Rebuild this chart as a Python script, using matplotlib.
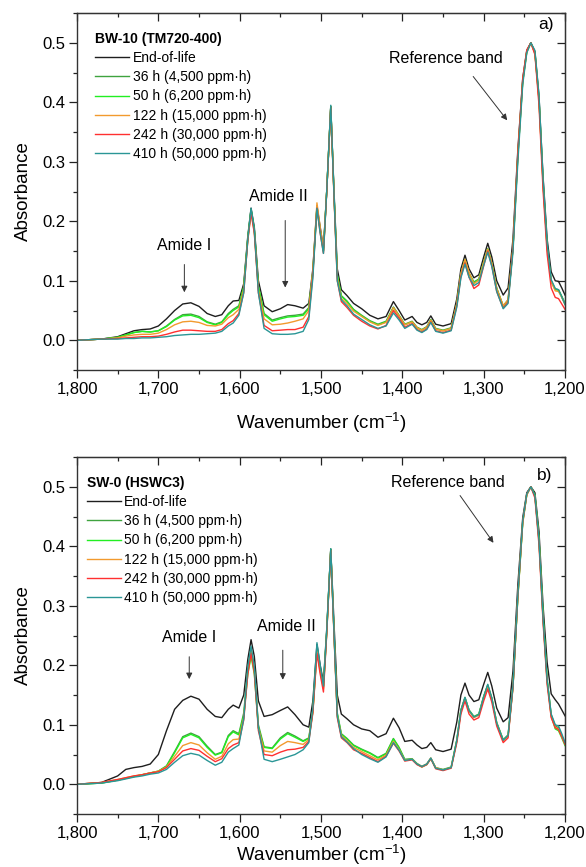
import matplotlib
matplotlib.use("Agg")
import matplotlib.pyplot as plt
from matplotlib.ticker import MultipleLocator, FuncFormatter, NullFormatter

plt.rcParams['font.family'] = ['Liberation Sans', 'DejaVu Sans']
plt.rcParams['mathtext.default'] = 'regular'

# wavenumber grid (cm-1) shared by all spectra
wavenumber = [1800, 1770, 1750, 1740, 1730, 1720, 1710, 1700, 1690, 1680,
              1670, 1660, 1650, 1640, 1630, 1622, 1614, 1608, 1601, 1595,
              1590, 1586, 1582, 1577, 1570, 1560, 1550, 1541, 1532, 1522,
              1515, 1510, 1505, 1501, 1497, 1493, 1488, 1484, 1480, 1475,
              1468, 1460, 1450, 1440, 1430, 1420, 1411, 1404, 1397, 1388,
              1382, 1376, 1370, 1365, 1359, 1350, 1340, 1333, 1328, 1323,
              1318, 1312, 1306, 1300, 1295, 1290, 1284, 1276, 1270, 1264,
              1258, 1252, 1247, 1242, 1237, 1232, 1227, 1222, 1217, 1212,
              1208, 1204, 1200]

labels = ['End-of-life', '36 h (4,500 ppm·h)', '50 h (6,200 ppm·h)',
          '122 h (15,000 ppm·h)', '242 h (30,000 ppm·h)', '410 h (50,000 ppm·h)']
colors = ['#1e1e1e', '#3fa33f', '#22ee22', '#f29a2e', '#ff3030', '#2a9696']

# BW-10 (TM720-400)
bw_eol = [0.000, 0.002, 0.006, 0.011, 0.016, 0.018, 0.019, 0.024, 0.036, 0.050,
          0.061, 0.063, 0.057, 0.045, 0.040, 0.043, 0.058, 0.066, 0.067, 0.095,
          0.175, 0.222, 0.190, 0.100, 0.058, 0.048, 0.053, 0.060, 0.058, 0.054,
          0.062, 0.120, 0.226, 0.190, 0.155, 0.250, 0.393, 0.250, 0.120, 0.085,
          0.075, 0.062, 0.053, 0.042, 0.036, 0.040, 0.065, 0.050, 0.034, 0.040,
          0.030, 0.026, 0.030, 0.041, 0.027, 0.024, 0.028, 0.070, 0.120, 0.143,
          0.120, 0.105, 0.110, 0.140, 0.163, 0.140, 0.100, 0.076, 0.088, 0.170,
          0.320, 0.440, 0.487, 0.500, 0.485, 0.410, 0.275, 0.170, 0.115, 0.100,
          0.099, 0.088, 0.076]
bw_36h = [0.000, 0.002, 0.005, 0.009, 0.013, 0.015, 0.014, 0.016, 0.024, 0.035,
          0.043, 0.044, 0.040, 0.031, 0.027, 0.031, 0.045, 0.052, 0.058, 0.090,
          0.172, 0.220, 0.186, 0.092, 0.045, 0.034, 0.038, 0.041, 0.042, 0.044,
          0.055, 0.115, 0.224, 0.185, 0.150, 0.250, 0.393, 0.245, 0.110, 0.075,
          0.066, 0.052, 0.042, 0.033, 0.027, 0.032, 0.056, 0.042, 0.027, 0.032,
          0.022, 0.018, 0.023, 0.035, 0.020, 0.017, 0.021, 0.062, 0.112, 0.136,
          0.113, 0.098, 0.103, 0.132, 0.154, 0.130, 0.088, 0.058, 0.068, 0.155,
          0.310, 0.435, 0.485, 0.500, 0.483, 0.405, 0.265, 0.157, 0.100, 0.086,
          0.085, 0.074, 0.062]
bw_50h = [0.000, 0.002, 0.005, 0.009, 0.013, 0.015, 0.014, 0.016, 0.023, 0.034,
          0.041, 0.042, 0.038, 0.030, 0.026, 0.030, 0.043, 0.050, 0.056, 0.090,
          0.172, 0.219, 0.185, 0.090, 0.043, 0.032, 0.036, 0.039, 0.040, 0.042,
          0.053, 0.115, 0.224, 0.185, 0.150, 0.250, 0.393, 0.245, 0.110, 0.074,
          0.065, 0.051, 0.041, 0.032, 0.026, 0.031, 0.055, 0.041, 0.026, 0.031,
          0.021, 0.017, 0.022, 0.034, 0.019, 0.016, 0.020, 0.061, 0.111, 0.135,
          0.112, 0.097, 0.102, 0.131, 0.153, 0.129, 0.087, 0.057, 0.067, 0.154,
          0.309, 0.435, 0.485, 0.500, 0.483, 0.405, 0.265, 0.156, 0.099, 0.085,
          0.084, 0.073, 0.061]
bw_122h = [0.000, 0.002, 0.004, 0.007, 0.009, 0.010, 0.010, 0.012, 0.018, 0.026,
           0.031, 0.032, 0.030, 0.025, 0.024, 0.027, 0.038, 0.043, 0.052, 0.085,
           0.168, 0.215, 0.182, 0.085, 0.036, 0.026, 0.027, 0.029, 0.032, 0.036,
           0.050, 0.118, 0.231, 0.190, 0.152, 0.250, 0.390, 0.243, 0.105, 0.070,
           0.062, 0.049, 0.040, 0.031, 0.025, 0.030, 0.055, 0.041, 0.026, 0.031,
           0.021, 0.017, 0.022, 0.034, 0.019, 0.016, 0.020, 0.062, 0.112, 0.136,
           0.114, 0.095, 0.101, 0.131, 0.153, 0.129, 0.087, 0.058, 0.068, 0.155,
           0.310, 0.435, 0.485, 0.500, 0.482, 0.403, 0.262, 0.155, 0.098, 0.083,
           0.082, 0.072, 0.060]
bw_242h = [0.000, 0.002, 0.003, 0.004, 0.005, 0.006, 0.006, 0.007, 0.010, 0.014,
           0.017, 0.017, 0.016, 0.015, 0.015, 0.018, 0.028, 0.033, 0.045, 0.080,
           0.168, 0.214, 0.180, 0.080, 0.025, 0.016, 0.017, 0.018, 0.018, 0.022,
           0.040, 0.110, 0.222, 0.180, 0.146, 0.248, 0.392, 0.240, 0.100, 0.065,
           0.055, 0.042, 0.032, 0.024, 0.019, 0.025, 0.050, 0.037, 0.022, 0.028,
           0.018, 0.014, 0.019, 0.031, 0.016, 0.013, 0.017, 0.058, 0.107, 0.130,
           0.106, 0.087, 0.093, 0.125, 0.150, 0.125, 0.082, 0.054, 0.064, 0.155,
           0.315, 0.440, 0.488, 0.500, 0.480, 0.395, 0.252, 0.145, 0.088, 0.072,
           0.070, 0.061, 0.052]
bw_410h = [0.000, 0.002, 0.002, 0.003, 0.003, 0.004, 0.004, 0.005, 0.006, 0.008,
           0.009, 0.010, 0.010, 0.011, 0.012, 0.015, 0.024, 0.029, 0.042, 0.080,
           0.170, 0.222, 0.186, 0.080, 0.020, 0.011, 0.010, 0.010, 0.011, 0.015,
           0.035, 0.105, 0.222, 0.180, 0.146, 0.250, 0.395, 0.245, 0.100, 0.068,
           0.058, 0.044, 0.035, 0.026, 0.020, 0.024, 0.046, 0.034, 0.020, 0.027,
           0.017, 0.013, 0.018, 0.030, 0.015, 0.012, 0.016, 0.056, 0.105, 0.128,
           0.106, 0.092, 0.097, 0.126, 0.148, 0.124, 0.082, 0.053, 0.062, 0.148,
           0.300, 0.430, 0.483, 0.500, 0.487, 0.412, 0.272, 0.163, 0.102, 0.087,
           0.085, 0.073, 0.060]

# SW-0 (HSWC3)
sw_eol = [0.000, 0.003, 0.014, 0.025, 0.028, 0.030, 0.034, 0.050, 0.090, 0.126,
          0.141, 0.148, 0.143, 0.126, 0.114, 0.112, 0.126, 0.133, 0.128, 0.150,
          0.210, 0.243, 0.215, 0.140, 0.114, 0.117, 0.124, 0.130, 0.117, 0.100,
          0.096, 0.140, 0.235, 0.200, 0.172, 0.260, 0.395, 0.270, 0.150, 0.118,
          0.110, 0.100, 0.093, 0.090, 0.079, 0.085, 0.111, 0.095, 0.072, 0.074,
          0.066, 0.060, 0.062, 0.070, 0.058, 0.055, 0.059, 0.105, 0.150, 0.170,
          0.150, 0.139, 0.142, 0.168, 0.188, 0.165, 0.128, 0.105, 0.112, 0.190,
          0.335, 0.448, 0.490, 0.500, 0.490, 0.425, 0.300, 0.205, 0.152, 0.142,
          0.135, 0.125, 0.115]
sw_36h = [0.000, 0.002, 0.007, 0.010, 0.013, 0.016, 0.019, 0.022, 0.031, 0.055,
          0.080, 0.086, 0.080, 0.064, 0.050, 0.054, 0.082, 0.090, 0.085, 0.120,
          0.195, 0.228, 0.195, 0.100, 0.063, 0.061, 0.078, 0.087, 0.081, 0.073,
          0.078, 0.125, 0.228, 0.195, 0.165, 0.255, 0.395, 0.255, 0.120, 0.085,
          0.077, 0.066, 0.059, 0.053, 0.045, 0.052, 0.077, 0.062, 0.042, 0.043,
          0.035, 0.030, 0.034, 0.044, 0.028, 0.025, 0.029, 0.075, 0.125, 0.146,
          0.125, 0.114, 0.118, 0.148, 0.167, 0.145, 0.104, 0.075, 0.083, 0.165,
          0.315, 0.440, 0.487, 0.500, 0.485, 0.410, 0.280, 0.175, 0.117, 0.098,
          0.095, 0.082, 0.068]
sw_50h = [0.000, 0.002, 0.007, 0.010, 0.013, 0.016, 0.019, 0.022, 0.030, 0.053,
          0.078, 0.084, 0.078, 0.062, 0.049, 0.053, 0.080, 0.088, 0.083, 0.115,
          0.185, 0.215, 0.185, 0.095, 0.062, 0.060, 0.076, 0.085, 0.079, 0.072,
          0.077, 0.122, 0.225, 0.192, 0.163, 0.255, 0.395, 0.255, 0.118, 0.084,
          0.076, 0.065, 0.058, 0.052, 0.044, 0.051, 0.076, 0.061, 0.041, 0.042,
          0.034, 0.029, 0.033, 0.043, 0.027, 0.024, 0.028, 0.074, 0.124, 0.145,
          0.124, 0.113, 0.117, 0.147, 0.166, 0.144, 0.103, 0.074, 0.082, 0.164,
          0.314, 0.440, 0.487, 0.500, 0.486, 0.413, 0.285, 0.177, 0.115, 0.093,
          0.090, 0.078, 0.065]
sw_122h = [0.000, 0.003, 0.008, 0.011, 0.014, 0.016, 0.019, 0.022, 0.029, 0.047,
           0.065, 0.070, 0.066, 0.053, 0.042, 0.047, 0.068, 0.075, 0.076, 0.112,
           0.190, 0.225, 0.192, 0.095, 0.056, 0.054, 0.065, 0.072, 0.070, 0.067,
           0.075, 0.122, 0.224, 0.190, 0.160, 0.253, 0.393, 0.252, 0.115, 0.082,
           0.073, 0.062, 0.055, 0.048, 0.041, 0.049, 0.072, 0.058, 0.040, 0.042,
           0.034, 0.030, 0.034, 0.044, 0.028, 0.024, 0.028, 0.073, 0.123, 0.144,
           0.123, 0.112, 0.116, 0.146, 0.165, 0.143, 0.102, 0.073, 0.081, 0.163,
           0.313, 0.438, 0.486, 0.500, 0.484, 0.408, 0.277, 0.172, 0.114, 0.096,
           0.093, 0.081, 0.068]
sw_242h = [0.000, 0.003, 0.008, 0.011, 0.014, 0.016, 0.019, 0.021, 0.028, 0.042,
           0.056, 0.060, 0.057, 0.047, 0.038, 0.043, 0.060, 0.066, 0.070, 0.108,
           0.185, 0.220, 0.188, 0.090, 0.050, 0.048, 0.054, 0.058, 0.059, 0.062,
           0.072, 0.120, 0.220, 0.185, 0.155, 0.252, 0.393, 0.250, 0.112, 0.078,
           0.070, 0.058, 0.052, 0.045, 0.038, 0.047, 0.069, 0.056, 0.039, 0.041,
           0.033, 0.029, 0.033, 0.043, 0.026, 0.023, 0.027, 0.070, 0.118, 0.140,
           0.118, 0.108, 0.112, 0.140, 0.160, 0.138, 0.098, 0.070, 0.078, 0.162,
           0.318, 0.442, 0.488, 0.500, 0.481, 0.402, 0.272, 0.168, 0.112, 0.095,
           0.092, 0.080, 0.067]
sw_410h = [0.000, 0.002, 0.006, 0.009, 0.012, 0.014, 0.017, 0.019, 0.025, 0.037,
           0.048, 0.052, 0.049, 0.040, 0.032, 0.037, 0.054, 0.060, 0.066, 0.110,
           0.198, 0.232, 0.198, 0.095, 0.042, 0.038, 0.042, 0.046, 0.050, 0.058,
           0.070, 0.128, 0.238, 0.200, 0.165, 0.258, 0.396, 0.255, 0.115, 0.080,
           0.071, 0.060, 0.050, 0.043, 0.037, 0.046, 0.070, 0.057, 0.040, 0.042,
           0.034, 0.030, 0.034, 0.044, 0.027, 0.024, 0.028, 0.074, 0.124, 0.146,
           0.124, 0.113, 0.117, 0.147, 0.168, 0.145, 0.103, 0.074, 0.082, 0.165,
           0.318, 0.442, 0.488, 0.500, 0.485, 0.410, 0.280, 0.175, 0.118, 0.100,
           0.098, 0.085, 0.070]

panels = [
    dict(title='BW-10 (TM720-400)', tag='a)', tag_pos=(0.962, 0.967),
         series=[bw_eol, bw_36h, bw_50h, bw_122h, bw_242h, bw_410h],
         rect=[0.1314, 0.5732, 0.8328, 0.4118], leg_x=0.037, xpad=10,
         amide1=((1668, 0.160), (1668, 0.076)), amide2=((1553, 0.241), (1544, 0.084)),
         ref=((1346, 0.473), (1269, 0.366)), ref_tail=(1315, 0.447)),
    dict(title='SW-0 (HSWC3)', tag='b)', tag_pos=(0.958, 0.949),
         series=[sw_eol, sw_36h, sw_50h, sw_122h, sw_242h, sw_410h],
         rect=[0.1314, 0.0611, 0.8328, 0.4118], leg_x=0.020, xpad=1.5,
         amide1=((1662, 0.247), (1662, 0.172)), amide2=((1543, 0.265), (1547, 0.171)),
         ref=((1344, 0.507), (1286, 0.402)), ref_tail=(1331, 0.489)),
]

fig = plt.figure(figsize=(5.86, 8.67), dpi=100)

for p in panels:
    ax = fig.add_axes(p['rect'])
    for ys, c, lab in zip(p['series'], colors, labels):
        ax.plot(wavenumber, ys, color=c, lw=1.0, label=lab)

    ax.set_xlim(1800, 1200)
    ax.set_ylim(-0.05, 0.55)
    ax.xaxis.set_major_locator(MultipleLocator(100))
    ax.xaxis.set_minor_locator(MultipleLocator(50))
    ax.yaxis.set_major_locator(MultipleLocator(0.1))
    ax.yaxis.set_minor_locator(MultipleLocator(0.05))
    ax.xaxis.set_major_formatter(FuncFormatter(lambda v, pos: f'{v:,.0f}'))
    ax.yaxis.set_major_formatter(FuncFormatter(lambda v, pos: f'{v:.1f}'))
    ax.tick_params(which='major', direction='out', length=5.5, width=0.9, labelsize=12, pad=3, colors='#222222')
    ax.tick_params(which='minor', direction='out', length=3, width=0.9, colors='#222222')
    ax.tick_params(labelcolor='black')
    for s in ax.spines.values():
        s.set_linewidth(1.0)
        s.set_color('#333333')

    # mirrored inward ticks on top and right
    top = ax.secondary_xaxis('top')
    top.xaxis.set_major_locator(MultipleLocator(100))
    top.xaxis.set_minor_locator(MultipleLocator(50))
    top.xaxis.set_major_formatter(NullFormatter())
    top.tick_params(which='major', direction='in', length=5.5, width=0.9, colors='#222222')
    top.tick_params(which='minor', direction='in', length=3, width=0.9, colors='#222222')
    right = ax.secondary_yaxis('right')
    right.yaxis.set_major_locator(MultipleLocator(0.1))
    right.yaxis.set_minor_locator(MultipleLocator(0.05))
    right.yaxis.set_major_formatter(NullFormatter())
    right.tick_params(which='major', direction='in', length=5.5, width=0.9, colors='#222222')
    right.tick_params(which='minor', direction='in', length=3, width=0.9, colors='#222222')

    ax.set_xlabel('Wavenumber (cm$^{-1}$)', fontsize=13.5, labelpad=p['xpad'])
    ax.set_ylabel('Absorbance', fontsize=13.5, labelpad=7)

    ax.legend(loc='upper left', bbox_to_anchor=(p['leg_x'], 0.948), frameon=False,
              fontsize=10, title=p['title'], title_fontproperties={'weight': 'bold', 'size': 10},
              alignment='left', handlelength=2.45, handletextpad=0.25, labelspacing=0.38,
              borderpad=0, borderaxespad=0)

    arrow = dict(arrowstyle='-|>', color='#333333', lw=0.7, mutation_scale=9)
    (tx, ty), (hx, hy) = p['amide1']
    ax.text(tx, ty, 'Amide I', fontsize=11.5, ha='center', va='center')
    ax.annotate('', xy=(hx, hy), xytext=(hx, ty - 0.028), arrowprops=arrow)
    (tx, ty), (hx, hy) = p['amide2']
    ax.text(tx, ty, 'Amide II', fontsize=11.5, ha='center', va='center')
    ax.annotate('', xy=(hx, hy), xytext=(hx, ty - 0.035), arrowprops=arrow)
    (tx, ty), (hx, hy) = p['ref']
    ax.text(tx, ty, 'Reference band', fontsize=11.5, ha='center', va='center')
    ax.annotate('', xy=(hx, hy), xytext=p['ref_tail'], arrowprops=arrow)
    ax.text(*p['tag_pos'], p['tag'], transform=ax.transAxes, fontsize=12.5, ha='center', va='center')

fig.savefig('out.png', dpi=100)
